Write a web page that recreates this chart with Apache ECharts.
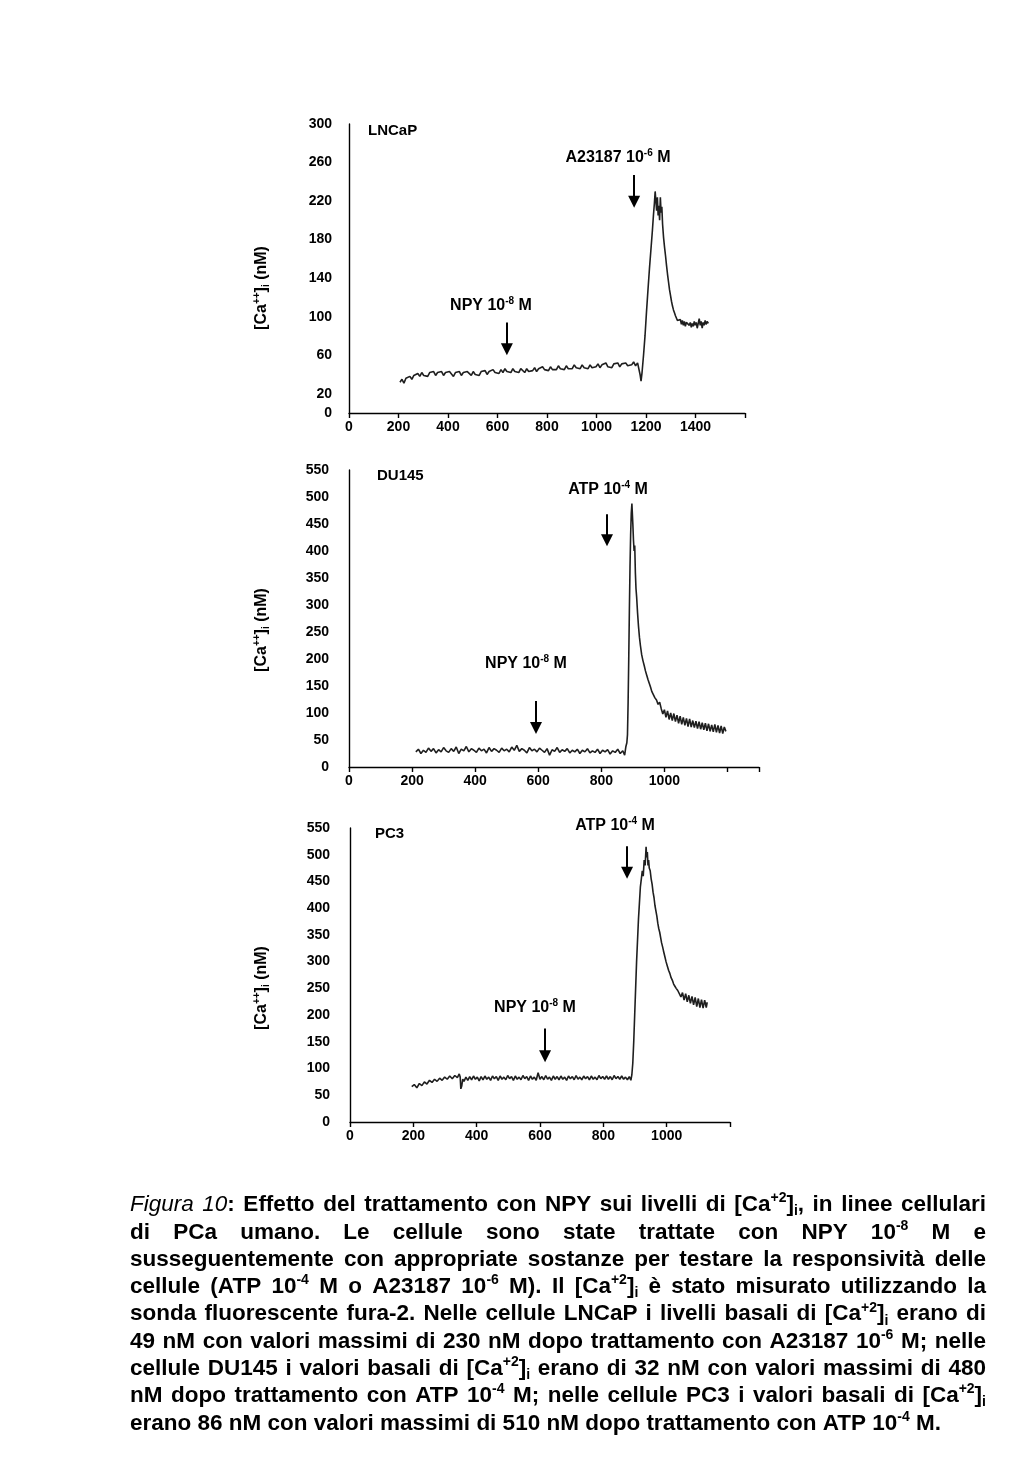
<!DOCTYPE html>
<html><head><meta charset="utf-8">
<script src="https://cdn.jsdelivr.net/npm/echarts@6/dist/echarts.min.js"></script>
<style>html,body{margin:0;padding:0;background:#fff}#c{width:1024px;height:1479px}</style>
</head><body><div id="c"></div>
<script>
const FONT = '"Liberation Sans", Arial, Helvetica, sans-serif';

// ---------- DATA ----------
// LNCaP trace: [time (s), [Ca++]i (nM)]
const lncapTrace = [
[206,32],[214,35],[222,31],[230,36],[238,34],[246,38],[254,35],[262,39],[270,37],[278,41],[286,38],[294,42],[302,39],[310,41],[318,38],[326,42],[334,40],[342,43],[350,39],[358,42],[366,40],[374,43],[382,39],[390,42],[398,40],[406,43],[414,41],[422,38],[430,42],[438,40],[446,43],[454,39],[462,42],[470,40],[478,43],[486,41],[494,39],[502,43],[510,40],[518,42],[526,39],[534,43],[542,41],[550,44],[558,40],[566,43],[574,41],[582,45],[590,42],[598,44],[606,41],[614,45],[622,42],[630,46],[638,43],[646,45],[654,42],[662,46],[670,43],[678,45],[686,42],[694,46],[702,44],[710,42],[718,46],[726,43],[734,45],[742,44],[750,47],[758,43],[766,46],[774,44],[782,48],[790,45],[798,47],[806,44],[814,48],[822,45],[830,47],[838,45],[846,49],[854,46],[862,48],[870,45],[878,49],[886,46],[894,48],[902,46],[910,50],[918,47],[926,49],[934,46],[942,50],[950,47],[958,49],[966,46],[974,50],[982,47],[990,49],[998,48],[1006,51],[1014,47],[1022,50],[1030,48],[1038,52],[1046,48],[1054,50],[1062,47],[1070,51],[1078,49],[1086,52],[1094,48],[1102,51],[1110,49],[1118,52],[1126,49],[1134,51],[1142,50],[1150,53],[1158,49],[1166,52],[1172,50],[1176,40],[1180,33],[1184,42],[1190,60],[1196,80],[1202,105],[1208,128],[1214,150],[1220,170],[1226,190],[1230,205],[1234,218],[1237,230],[1240,220],[1243,210],[1246,224],[1249,205],[1252,215],[1255,200],[1258,224],[1261,208],[1264,214],[1267,196],[1271,182],[1275,172],[1279,163],[1283,153],[1287,144],[1291,136],[1295,128],[1299,122],[1303,116],[1307,111],[1311,107],[1315,104],[1319,101],[1323,99],[1327,96],[1331,98],[1335,94],[1339,97],[1343,92],[1347,96],[1351,91],[1355,95],[1359,90],[1363,94],[1367,92],[1371,96],[1375,91],[1379,94],[1383,89],[1387,93],[1391,90],[1395,95],[1399,91],[1403,94],[1407,88],[1411,93],[1415,98],[1419,91],[1423,95],[1427,88],[1431,94],[1435,91],[1439,96],[1443,92],[1447,95],[1452,93]
];
// DU145 trace
const du145Trace = [
[212,28],[220,33],[228,25],[236,31],[244,27],[252,35],[260,29],[268,34],[276,26],[284,32],[292,28],[300,36],[308,30],[316,27],[324,34],[332,29],[340,37],[348,25],[356,33],[364,30],[372,38],[380,28],[388,34],[396,31],[404,27],[412,35],[420,30],[428,33],[436,26],[444,36],[452,29],[460,34],[468,31],[476,27],[484,35],[492,30],[500,33],[508,28],[516,37],[524,31],[532,40],[540,29],[548,34],[556,31],[564,26],[572,36],[580,30],[588,33],[596,28],[604,35],[612,31],[620,27],[628,34],[636,22],[644,32],[652,29],[660,36],[668,27],[676,32],[684,29],[692,34],[700,26],[708,31],[716,28],[724,33],[732,25],[740,31],[748,28],[756,34],[764,26],[772,30],[780,27],[788,33],[796,25],[804,31],[812,28],[820,32],[828,24],[836,30],[844,27],[852,33],[860,25],[868,30],[874,22],[878,38],[881,45],[883,60],[885,120],[887,200],[889,290],[891,370],[893,430],[895,470],[897,488],[900,450],[902,420],[904,400],[906,410],[908,360],[910,330],[912,315],[915,285],[918,260],[921,240],[924,225],[928,208],[932,197],[936,188],[940,178],[944,170],[948,162],[952,155],[956,148],[960,140],[965,134],[970,128],[975,124],[980,116],[985,120],[990,108],[995,98],[1000,106],[1005,92],[1010,104],[1015,88],[1020,100],[1025,86],[1030,99],[1035,84],[1040,96],[1045,81],[1050,94],[1055,79],[1060,92],[1065,77],[1070,90],[1075,75],[1080,89],[1085,74],[1090,86],[1095,73],[1100,85],[1105,71],[1110,84],[1115,70],[1120,82],[1125,69],[1130,81],[1135,67],[1140,80],[1145,66],[1150,78],[1155,65],[1160,79],[1165,64],[1170,77],[1175,63],[1180,76],[1185,62],[1190,74],[1195,66]
];
// PC3 trace
const pc3Trace = [
[195,66],[203,70],[211,64],[219,72],[227,68],[235,75],[243,71],[251,78],[259,74],[267,80],[275,76],[283,82],[291,78],[299,84],[307,80],[315,86],[323,81],[331,87],[339,83],[345,90],[348,84],[350,62],[353,68],[356,80],[360,76],[366,84],[372,78],[378,85],[384,79],[390,86],[396,80],[402,84],[408,77],[414,85],[420,79],[426,86],[432,80],[438,84],[444,78],[450,86],[456,81],[462,85],[468,78],[474,86],[480,80],[486,84],[492,79],[498,87],[504,81],[510,85],[516,78],[522,86],[528,80],[534,84],[540,79],[546,87],[552,81],[558,85],[564,78],[570,86],[576,80],[582,84],[588,78],[594,92],[600,80],[606,85],[612,79],[618,87],[624,80],[630,84],[636,78],[642,86],[648,80],[654,85],[660,79],[666,86],[672,80],[678,84],[684,78],[690,86],[696,81],[702,85],[708,79],[714,87],[720,80],[726,84],[732,79],[738,86],[744,81],[750,85],[756,79],[762,86],[768,80],[774,84],[780,79],[786,87],[792,81],[798,85],[804,80],[810,86],[816,80],[822,85],[828,79],[834,87],[840,81],[846,85],[852,80],[858,86],[864,80],[870,84],[876,79],[882,85],[887,78],[890,88],[893,110],[896,150],[899,200],[902,250],[905,300],[908,340],[911,380],[914,410],[917,440],[920,455],[923,470],[926,460],[929,490],[932,480],[935,515],[937,495],[939,505],[941,480],[943,490],[945,475],[948,470],[951,455],[954,445],[957,430],[960,420],[963,405],[966,395],[969,385],[972,372],[975,362],[978,355],[981,345],[984,335],[987,328],[990,320],[994,310],[998,300],[1002,292],[1006,284],[1010,278],[1014,270],[1018,265],[1022,258],[1026,254],[1030,250],[1035,246],[1040,244],[1045,234],[1050,242],[1055,228],[1060,240],[1065,225],[1070,237],[1075,222],[1080,235],[1085,219],[1090,233],[1095,216],[1100,231],[1105,214],[1110,229],[1115,213],[1120,228],[1125,214],[1128,224]
];

// Tick labels
const lncapYLabels = [0,20,60,100,140,180,220,260,300];
const lncapXLabels = [0,200,400,600,800,1000,1200,1400];
const du145YLabels = [0,50,100,150,200,250,300,350,400,450,500,550];
const du145XLabels = [0,200,400,600,800,1000];
const pc3YLabels = [0,50,100,150,200,250,300,350,400,450,500,550];
const pc3XLabels = [0,200,400,600,800,1000];

// Arrows: [time, top value, tip value]
const lncapArrows = [[638,94,60],[1152,247,213]];
const du145Arrows = [[593,122,61],[818,468,409]];
const pc3Arrows = [[616,175,112],[875,516,455]];

// Texts
const panelNames = ['LNCaP','DU145','PC3'];
const yName = '[Ca{s|++}]{b|i} (nM)';
const lncapNotes = ['NPY 10{s|-8} M','A23187 10{s|-6} M'];
const du145Notes = ['NPY 10{s|-8} M','ATP 10{s|-4} M'];
const pc3Notes = ['NPY 10{s|-8} M','ATP 10{s|-4} M'];
const captionLines = [
 '{it|Figura} {it|10}: Effetto del trattamento con NPY sui livelli di [Ca{s|+2}]{b|i}, in linee cellulari',
 'di PCa umano. Le cellule sono state trattate con NPY 10{s|-8} M e',
 'susseguentemente con appropriate sostanze per testare la responsività delle',
 'cellule (ATP 10{s|-4} M o A23187 10{s|-6} M). Il [Ca{s|+2}]{b|i} è stato misurato utilizzando la',
 'sonda fluorescente fura-2. Nelle cellule LNCaP i livelli basali di [Ca{s|+2}]{b|i} erano di',
 '49 nM con valori massimi di 230 nM dopo trattamento con A23187 10{s|-6} M; nelle',
 'cellule DU145 i valori basali di [Ca{s|+2}]{b|i} erano di 32 nM con valori massimi di 480',
 'nM dopo trattamento con ATP 10{s|-4} M; nelle cellule PC3 i valori basali di [Ca{s|+2}]{b|i}',
 'erano 86 nM con valori massimi di 510 nM dopo trattamento con ATP 10{s|-4} M.'
];

// ---------- LAYOUT ----------
const grids = [
 {left:349, top:124, width:396, height:289},
 {left:349, top:470, width:410, height:297},
 {left:350, top:828, width:380, height:294}
];
const yMax = [300,550,550];
const xMax = [1600,1300,1200];
const yInt = [20,50,50];
const yLabelSets = [lncapYLabels, du145YLabels, pc3YLabels];
const xLabelSets = [lncapXLabels, du145XLabels, pc3XLabels];
const traces = [lncapTrace, du145Trace, pc3Trace];
const arrowSets = [lncapArrows, du145Arrows, pc3Arrows];
const noteSets = [lncapNotes, du145Notes, pc3Notes];
const yLabelMargin = [17,20,20];
const panelPos = [[368,131],[377,476],[375,834]];
const yNamePos = [[262,288],[262,630],[262,988]];
const notePos = [[[491,306],[618,158]],[[526,664],[608,490]],[[535,1008],[615,826]]];
const ARROW = 12;

const chart = echarts.init(document.getElementById('c'), null, {renderer:'canvas'});

const xAxes = [], yAxes = [], series = [];
for (let i = 0; i < 3; i++) {
  const xl = xLabelSets[i], yl = yLabelSets[i];
  xAxes.push({gridIndex:i, type:'value', min:0, max:xMax[i], interval:200,
    axisLine:{show:true, onZero:false, lineStyle:{color:'#000', width:1.4}},
    axisTick:{show:true, length:5, lineStyle:{color:'#000', width:1.4}},
    splitLine:{show:false},
    axisLabel:{margin:7, color:'#000', fontSize:14, fontWeight:'bold', fontFamily:FONT,
      showMaxLabel:true, formatter:v => xl.indexOf(v) >= 0 ? String(v) : ''}});
  yAxes.push({gridIndex:i, type:'value', min:0, max:yMax[i], interval:yInt[i],
    axisLine:{show:true, onZero:false, lineStyle:{color:'#000', width:1.4}},
    axisTick:{show:false}, splitLine:{show:false},
    axisLabel:{margin:yLabelMargin[i], color:'#000', fontSize:14, fontWeight:'bold', fontFamily:FONT,
      formatter:v => yl.indexOf(v) >= 0 ? String(v) : ''}});
  const pxPerUnit = grids[i].height / yMax[i];
  const off = (ARROW / 2) / pxPerUnit;
  series.push({type:'line', xAxisIndex:i, yAxisIndex:i, data:traces[i], showSymbol:false, symbol:'none',
    lineStyle:{color:'#1f1f1f', width:1.6}, silent:true, clip:false,
    markLine:{silent:true, symbol:['none','triangle'], symbolSize:ARROW, animation:false,
      label:{show:false}, lineStyle:{color:'#000', width:2, type:'solid'},
      data: arrowSets[i].map(a => [{coord:[a[0], a[1]]}, {coord:[a[0], a[2] + off]}])}});
}

// ---------- TEXT HELPERS ----------
function richFor(fs, lh) {
  const sfs = Math.round(fs * 0.62);
  return {
    it:{fontStyle:'italic', fontWeight:'normal', fontSize:fs, fontFamily:FONT, lineHeight:lh, fill:'#000', color:'#000'},
    s:{fontWeight:'bold', fontSize:sfs, fontFamily:FONT, lineHeight:sfs, verticalAlign:'top', fill:'#000', color:'#000'},
    b:{fontWeight:'bold', fontSize:sfs, fontFamily:FONT, lineHeight:sfs, verticalAlign:'bottom', fill:'#000', color:'#000'}
  };
}
function textEl(x, y, text, fs, align, rotation) {
  const lh = Math.round(fs * 1.2);
  return {type:'text', x:x, y:y, rotation:rotation || 0, silent:true, z:10,
    style:{text:text, font:'bold ' + fs + 'px ' + FONT, fontSize:fs, fontWeight:'bold', fontFamily:FONT,
      fill:'#000', align:align || 'center', verticalAlign:'middle', textAlign:align || 'center',
      textVerticalAlign:'middle', lineHeight:lh, rich:richFor(fs, lh)}};
}
const graphics = [];
for (let i = 0; i < 3; i++) {
  graphics.push(textEl(panelPos[i][0], panelPos[i][1], panelNames[i], 15, 'left'));
  graphics.push(textEl(yNamePos[i][0], yNamePos[i][1], yName, 16, 'center', Math.PI / 2));
  noteSets[i].forEach((n, k) => graphics.push(textEl(notePos[i][k][0], notePos[i][k][1], n, 16, 'center')));
}

// ---------- CAPTION (justified) ----------
const mctx = document.createElement('canvas').getContext('2d');
function segFont(key, fs) {
  if (key === 'it') return 'italic 400 ' + fs + 'px ' + FONT;
  if (key === 's' || key === 'b') return 'bold ' + Math.round(fs * 0.62) + 'px ' + FONT;
  return 'bold ' + fs + 'px ' + FONT;
}
function measureWord(w, fs) {
  const re = /\{(\w+)\|([^}]*)\}/g; let m, last = 0, total = 0;
  while ((m = re.exec(w)) !== null) {
    if (m.index > last) { mctx.font = segFont(null, fs); total += mctx.measureText(w.slice(last, m.index)).width; }
    mctx.font = segFont(m[1], fs); total += mctx.measureText(m[2]).width;
    last = re.lastIndex;
  }
  if (last < w.length) { mctx.font = segFont(null, fs); total += mctx.measureText(w.slice(last)).width; }
  return total;
}
function lineNatural(line, fs) {
  const words = line.split(' ');
  mctx.font = segFont(null, fs);
  const sp = mctx.measureText(' ').width;
  return words.reduce((s, w) => s + measureWord(w, fs), 0) + sp * (words.length - 1);
}
const capLeft = 130, capRight = 986, capTop = 1205, capStep = 27.3, lastLineWidth = 817;
let capFs = 20 * lastLineWidth / lineNatural(captionLines[captionLines.length - 1], 20);
capFs = Math.max(17, Math.min(23, Math.round(capFs * 2) / 2));
captionLines.forEach((line, li) => {
  const words = line.split(' ');
  const widths = words.map(w => measureWord(w, capFs));
  const sum = widths.reduce((a, b) => a + b, 0);
  mctx.font = segFont(null, capFs);
  let gap = mctx.measureText(' ').width;
  if (li < captionLines.length - 1 && words.length > 1) gap = (capRight - capLeft - sum) / (words.length - 1);
  let x = capLeft;
  const y = capTop + li * capStep;
  words.forEach((w, k) => { graphics.push(textEl(x, y, w, capFs, 'left')); x += widths[k] + gap; });
});

chart.setOption({
  animation:false,
  backgroundColor:'#fff',
  grid: grids.map(g => Object.assign({containLabel:false}, g)),
  xAxis: xAxes, yAxis: yAxes, series: series,
  graphic: {elements: graphics}
});
</script></body></html>
